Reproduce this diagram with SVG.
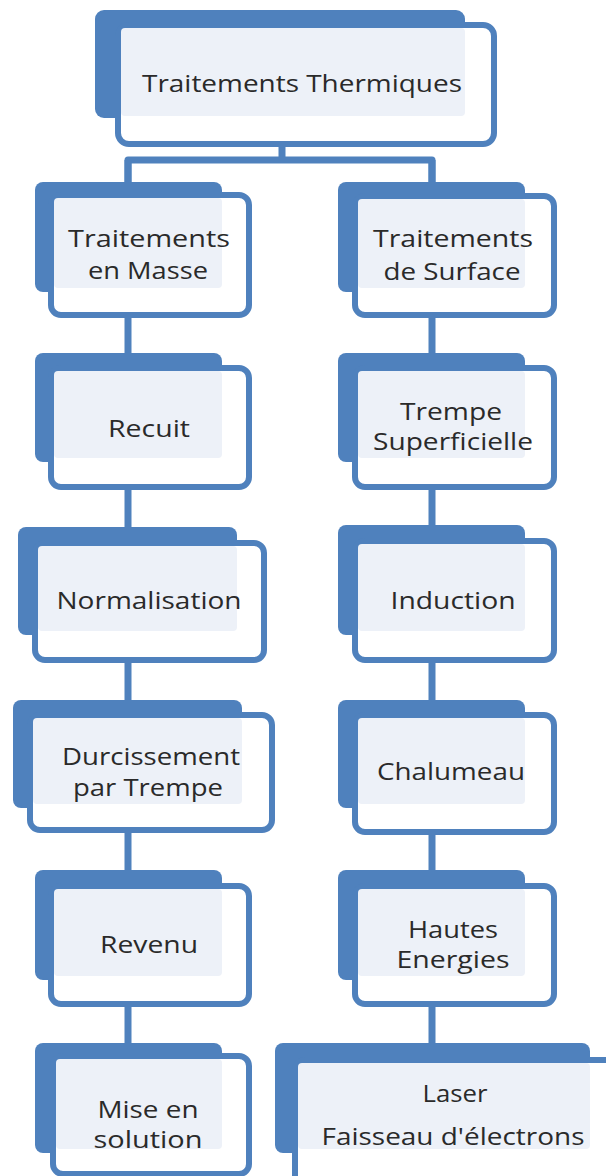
<svg xmlns="http://www.w3.org/2000/svg" width="606" height="1176" viewBox="0 0 606 1176">
  <style>
    .back { fill: #4f81bd; }
    .front { fill: #ffffff; stroke: #4f81bd; stroke-width: 6; }
    .tint { fill: #edf1f8; }
    .lbl { font-family: "Open Sans", "Noto Sans", sans-serif; font-size: 23px; font-weight: 500; fill: #2a2a2a; text-anchor: middle; }
    .link { fill: none; stroke: #4f81bd; stroke-width: 7; stroke-linejoin: round; }
  </style>

  <!-- connectors (drawn first so the boxes sit over them) -->
  <g id="connectors">
    <path class="link" d="M282,145 V160 M128,185 V160 H432 V185"/>
    <path class="link" d="M128,160 V1050"/>
    <path class="link" d="M432,160 V1050"/>
  </g>

  <g id="traitements-thermiques">
    <rect class="back" x="95" y="10" width="370" height="108" rx="9"/>
    <rect class="front" x="118" y="25" width="376" height="119" rx="11"/>
    <rect class="tint" x="121" y="28" width="344" height="88" rx="4"/>
    <text class="lbl" x="302" y="92" textLength="320" lengthAdjust="spacingAndGlyphs">Traitements Thermiques</text>
  </g>

  <g id="traitements-masse">
    <rect class="back" x="35" y="182" width="187" height="110" rx="8"/>
    <rect class="front" x="51" y="195" width="198" height="120" rx="10"/>
    <rect class="tint" x="54" y="198" width="168" height="90" rx="4"/>
    <text class="lbl" x="149" y="247" textLength="162" lengthAdjust="spacingAndGlyphs">Traitements</text>
    <text class="lbl" x="148" y="279" textLength="120" lengthAdjust="spacingAndGlyphs">en Masse</text>
  </g>

  <g id="traitements-surface">
    <rect class="back" x="338" y="182" width="187" height="110" rx="8"/>
    <rect class="front" x="355" y="196" width="199" height="119" rx="10"/>
    <rect class="tint" x="358" y="199" width="167" height="89" rx="4"/>
    <text class="lbl" x="453" y="247" textLength="160" lengthAdjust="spacingAndGlyphs">Traitements</text>
    <text class="lbl" x="452" y="280" textLength="137" lengthAdjust="spacingAndGlyphs">de Surface</text>
  </g>

  <g id="recuit">
    <rect class="back" x="35" y="353" width="187" height="109" rx="8"/>
    <rect class="front" x="51" y="368" width="198" height="119" rx="10"/>
    <rect class="tint" x="54" y="371" width="168" height="87" rx="4"/>
    <text class="lbl" x="149" y="437" textLength="82" lengthAdjust="spacingAndGlyphs">Recuit</text>
  </g>

  <g id="trempe-superficielle">
    <rect class="back" x="338" y="353" width="187" height="109" rx="8"/>
    <rect class="front" x="355" y="368" width="199" height="119" rx="10"/>
    <rect class="tint" x="358" y="371" width="167" height="87" rx="4"/>
    <text class="lbl" x="451" y="420" textLength="102" lengthAdjust="spacingAndGlyphs">Trempe</text>
    <text class="lbl" x="453" y="450" textLength="160" lengthAdjust="spacingAndGlyphs">Superficielle</text>
  </g>

  <g id="normalisation">
    <rect class="back" x="18" y="527" width="219" height="108" rx="8"/>
    <rect class="front" x="35" y="543" width="229" height="117" rx="10"/>
    <rect class="tint" x="38" y="546" width="199" height="85" rx="4"/>
    <text class="lbl" x="149" y="609" textLength="185" lengthAdjust="spacingAndGlyphs">Normalisation</text>
  </g>

  <g id="induction">
    <rect class="back" x="338" y="525" width="187" height="110" rx="8"/>
    <rect class="front" x="355" y="541" width="199" height="119" rx="10"/>
    <rect class="tint" x="358" y="544" width="167" height="87" rx="4"/>
    <text class="lbl" x="453" y="609" textLength="125" lengthAdjust="spacingAndGlyphs">Induction</text>
  </g>

  <g id="durcissement-trempe">
    <rect class="back" x="13" y="700" width="229" height="108" rx="8"/>
    <rect class="front" x="30" y="715" width="242" height="115" rx="10"/>
    <rect class="tint" x="33" y="718" width="209" height="86" rx="4"/>
    <text class="lbl" x="151" y="765" textLength="178" lengthAdjust="spacingAndGlyphs">Durcissement</text>
    <text class="lbl" x="148" y="796" textLength="150" lengthAdjust="spacingAndGlyphs">par Trempe</text>
  </g>

  <g id="chalumeau">
    <rect class="back" x="338" y="700" width="187" height="108" rx="8"/>
    <rect class="front" x="355" y="715" width="199" height="117" rx="10"/>
    <rect class="tint" x="358" y="718" width="167" height="86" rx="4"/>
    <text class="lbl" x="451" y="780" textLength="148" lengthAdjust="spacingAndGlyphs">Chalumeau</text>
  </g>

  <g id="revenu">
    <rect class="back" x="35" y="870" width="187" height="110" rx="8"/>
    <rect class="front" x="51" y="886" width="198" height="118" rx="10"/>
    <rect class="tint" x="54" y="889" width="168" height="87" rx="4"/>
    <text class="lbl" x="149" y="953" textLength="98" lengthAdjust="spacingAndGlyphs">Revenu</text>
  </g>

  <g id="hautes-energies">
    <rect class="back" x="338" y="870" width="187" height="110" rx="8"/>
    <rect class="front" x="355" y="886" width="199" height="118" rx="10"/>
    <rect class="tint" x="358" y="889" width="167" height="87" rx="4"/>
    <text class="lbl" x="453" y="938" textLength="90" lengthAdjust="spacingAndGlyphs">Hautes</text>
    <text class="lbl" x="453" y="968" textLength="113" lengthAdjust="spacingAndGlyphs">Energies</text>
  </g>

  <g id="mise-en-solution">
    <rect class="back" x="35" y="1043" width="187" height="110" rx="8"/>
    <rect class="front" x="53" y="1056" width="196" height="118" rx="10"/>
    <rect class="tint" x="56" y="1059" width="166" height="90" rx="4"/>
    <text class="lbl" x="148" y="1118" textLength="101" lengthAdjust="spacingAndGlyphs">Mise en</text>
    <text class="lbl" x="148" y="1148" textLength="109" lengthAdjust="spacingAndGlyphs">solution</text>
  </g>

  <g id="laser-faisceau">
    <rect class="back" x="275" y="1043" width="315" height="110" rx="8"/>
    <rect class="front" x="295" y="1060" width="330" height="140" rx="10"/>
    <rect class="tint" x="298" y="1063" width="292" height="86" rx="4"/>
    <text class="lbl" x="455" y="1102" textLength="65" lengthAdjust="spacingAndGlyphs">Laser</text>
    <text class="lbl" x="453" y="1145" textLength="263" lengthAdjust="spacingAndGlyphs">Faisseau d'électrons</text>
  </g>
</svg>
